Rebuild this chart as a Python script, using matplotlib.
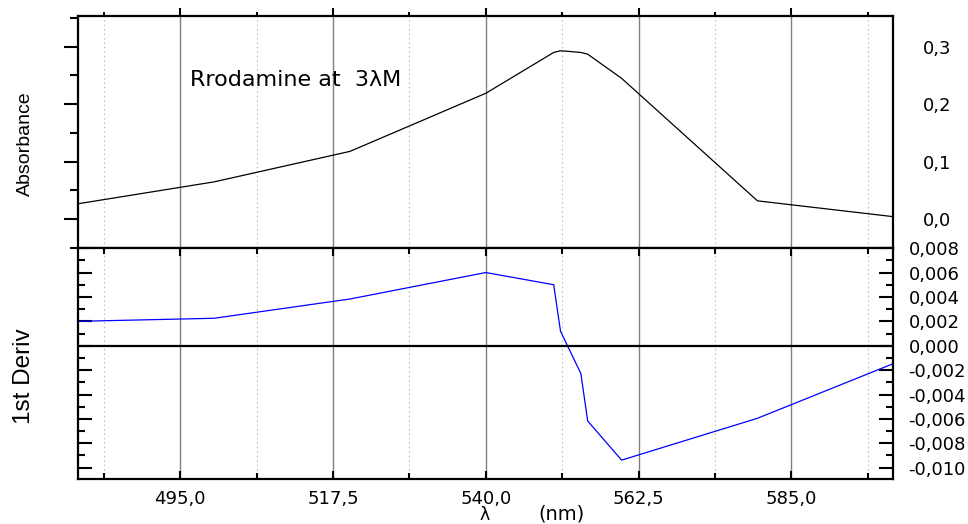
import matplotlib
matplotlib.use("Agg")
import matplotlib.pyplot as plt
from matplotlib.ticker import MultipleLocator, FuncFormatter

# wavelength (nm) and absorbance of rhodamine
wavelength = [480, 500, 520, 540, 550, 551, 554, 555, 560, 580, 600]
absorbance = [0.027, 0.065, 0.118, 0.219, 0.290, 0.293, 0.290, 0.287, 0.245, 0.032, 0.0045]
# first derivative of the spectrum
deriv = [0.0020, 0.00225, 0.00383, 0.0060, 0.0050, 0.00119, -0.00228, -0.00617, -0.00938, -0.00595, -0.00147]

plt.rcParams['axes.unicode_minus'] = False

fig = plt.figure(figsize=(9.68, 5.24), dpi=100)
# two stacked panels, no gap between them
ax1 = fig.add_axes([0.0809, 0.5267, 0.8419, 0.4428])
ax2 = fig.add_axes([0.0809, 0.0865, 0.8419, 0.4402], sharex=ax1)

tick_font = {'family': 'DejaVu Sans', 'size': 13}

def comma(fmt):
    """formatter with comma as decimal separator"""
    def f(v, pos):
        s = fmt.format(v)
        if s.startswith('-') and float(s[1:]) == 0:
            s = s[1:]
        return s.replace('.', ',')
    return FuncFormatter(f)

for ax in (ax1, ax2):
    ax.set_xlim(480, 600)
    ax.xaxis.set_major_locator(MultipleLocator(22.5))
    ax.xaxis.set_minor_locator(MultipleLocator(11.25))
    ax.grid(True, which='major', axis='x', color='#808080', lw=1.0)
    ax.grid(True, which='minor', axis='x', color='#c0c0c0', lw=0.8, ls=(0, (1.5, 2.5)))
    for s in ax.spines.values():
        s.set_linewidth(1.6)
    ax.set_axisbelow(True)

# top panel: absorbance
ax1.plot(wavelength, absorbance, color='black', lw=0.9)
ax1.set_ylim(-0.05, 0.3534)
ax1.yaxis.set_major_locator(MultipleLocator(0.1))
ax1.yaxis.set_minor_locator(MultipleLocator(0.05))
ax1.yaxis.set_major_formatter(comma("{:.1f}"))
ax1.tick_params(axis='y', which='both', left=True, right=False, labelleft=False,
                labelright=True, direction='out', width=1.5, pad=11)
ax1.tick_params(axis='y', which='major', length=10)
ax1.tick_params(axis='y', which='minor', length=6)
ax1.tick_params(axis='x', which='both', top=True, bottom=False, labelbottom=False,
                direction='out', width=1.5)
ax1.tick_params(axis='x', which='major', length=6)
ax1.tick_params(axis='x', which='minor', length=3)
for lab in ax1.get_yticklabels():
    lab.set_fontproperties(tick_font)
ax1.set_ylabel("Absorbance", family='Liberation Sans', fontsize=14)
ax1.yaxis.set_label_coords(-0.0544, 0.448)
ax1.text(0.137, 0.725, "Rrodamine at  3\u03bbM", transform=ax1.transAxes,
         family='DejaVu Sans', fontsize=16, va='center')

# bottom panel: 1st derivative
ax2.plot(wavelength, deriv, color='#0000ff', lw=0.9)
ax2.axhline(0, color='black', lw=1.6)
ax2.set_ylim(-0.0109, 0.00801)
ax2.yaxis.set_major_locator(MultipleLocator(0.002))
ax2.yaxis.set_minor_locator(MultipleLocator(0.001))
ax2.yaxis.set_major_formatter(comma("{:.3f}"))
ax2.xaxis.set_major_formatter(comma("{:.1f}"))
ax2.tick_params(axis='y', which='both', left=True, right=True, labelleft=False,
                labelright=True, direction='in', width=1.5, pad=11)
ax2.tick_params(axis='y', which='major', length=10)
ax2.tick_params(axis='y', which='minor', length=5)
ax2.tick_params(axis='x', which='both', top=True, bottom=True, direction='in',
                width=1.5, pad=8)
ax2.tick_params(axis='x', which='major', length=6)
ax2.tick_params(axis='x', which='minor', length=4)
for lab in ax2.get_yticklabels() + ax2.get_xticklabels():
    lab.set_fontproperties(tick_font)
ax2.set_ylabel("1st Deriv", family='Liberation Sans', fontsize=17.5)
ax2.yaxis.set_label_coords(-0.0531, 0.445)

# x axis title
fig.text(485 / 968, 1 - 515 / 524, "\u03bb", ha='center', va='center',
         family='DejaVu Sans', fontsize=12.5)
fig.text(562 / 968, 1 - 514 / 524, "(nm)", ha='center', va='center',
         family='DejaVu Sans', fontsize=14)

fig.savefig("out.png", dpi=100)
